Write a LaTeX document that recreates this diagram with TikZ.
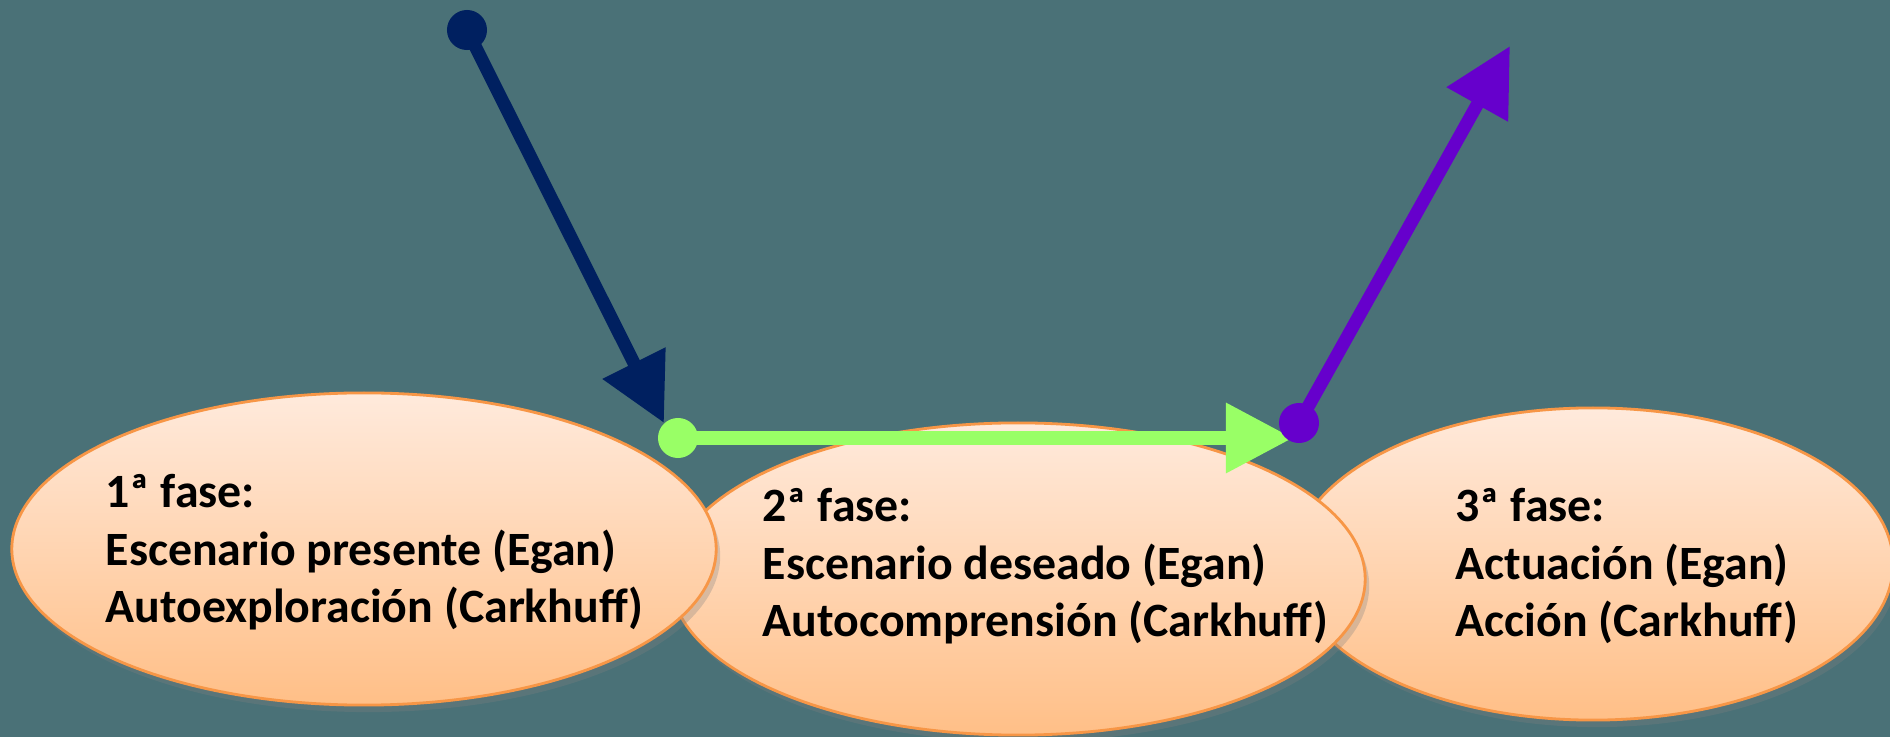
\documentclass[tikz,border=0pt]{standalone}
\usepackage{fontspec}
\setmainfont{Carlito}
\usetikzlibrary{shapes.geometric,arrows.meta,shadows}
\definecolor{bgteal}{HTML}{4A7177}
\definecolor{peachtop}{HTML}{FFEADC}
\definecolor{peachbot}{HTML}{FFBF87}
\definecolor{peachline}{HTML}{F79646}
\definecolor{navyarrow}{HTML}{002060}
\definecolor{greenarrow}{HTML}{99FF66}
\definecolor{purplearrow}{HTML}{6600CC}
\begin{document}
\begin{tikzpicture}[x=0.01cm,y=-0.01cm,
        fase/.style={ellipse,draw=peachline,line width=0.8pt,top color=peachtop,bottom color=peachbot,
                inner sep=0pt,minimum height=3.12cm,
                drop shadow={shadow xshift=0.4mm,shadow yshift=-0.7mm,opacity=0.3}},
        fasetext/.style={anchor=base west,align=left,inner sep=0pt,
                font=\bfseries\fontsize{13.6pt}{16.4pt}\selectfont},
        dot/.style={circle,fill=#1,inner sep=0pt,minimum size=4mm},
        flecha/.style={draw=#1,line width=3.7pt,-{Triangle[length=6.7mm,width=6.7mm]}}]
        \useasboundingbox (0,0) rectangle (1890,737);
        \fill [bgteal] (0,0) rectangle (1890,737);
        % las tres fases, de atras hacia delante
        \node [fase,minimum width=6.0cm] (fase3) at (1593,564) {};
        \node [fase,minimum width=6.94cm] (fase2) at (1018,579) {};
        \node [fase,minimum width=7.04cm] (fase1) at (364,549) {};
        % base = linea de abajo
        \node [fasetext] (txt1) at (105,623) {1ª fase:\\Escenario presente (Egan)\\Autoexploración (Carkhuff)};
        \node [fasetext] (txt2) at (762,637) {2ª fase:\\Escenario deseado (Egan)\\Autocomprensión (Carkhuff)};
        \node [fasetext] (txt3) at (1455,637) {3ª fase:\\Actuación (Egan)\\Acción (Carkhuff)};
        % flechas
        \node [dot=navyarrow] (ini1) at (467,30) {};
        \coordinate (fin1) at (664,423);
        \draw [flecha=navyarrow] (ini1.center) -- (fin1);
        \node [dot=greenarrow] (ini2) at (678,438) {};
        \coordinate (fin2) at (1293,438);
        \draw [flecha=greenarrow] (ini2.center) -- (fin2);
        \node [dot=purplearrow] (ini3) at (1299,423) {};
        \coordinate (fin3) at (1510,46);
        \draw [flecha=purplearrow] (ini3.center) -- (fin3);
\end{tikzpicture}
\end{document}
